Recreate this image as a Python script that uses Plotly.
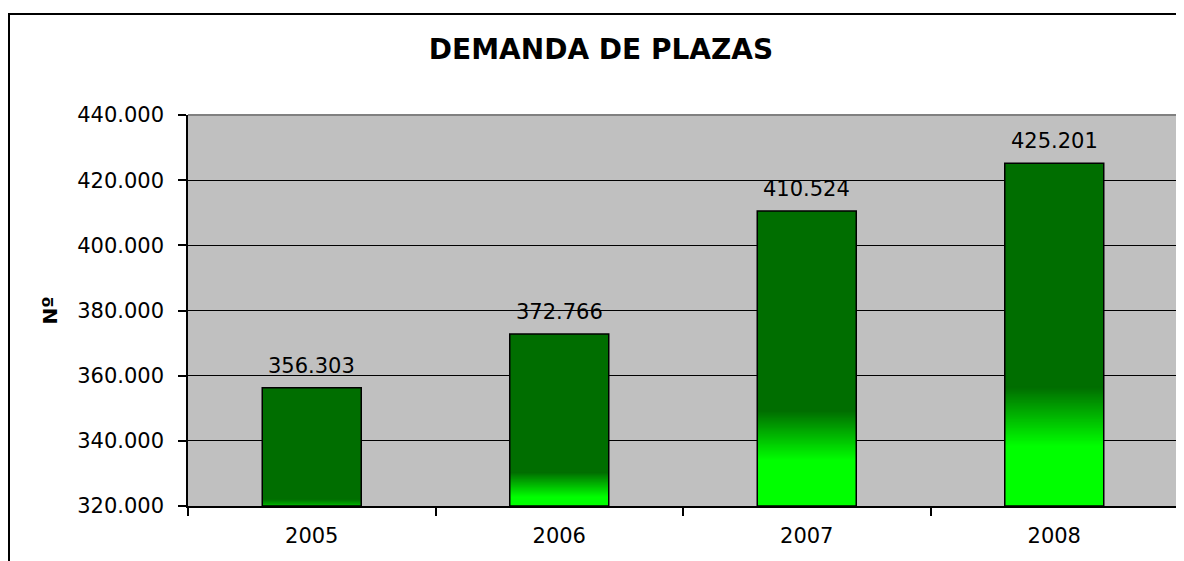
import plotly.graph_objects as go

# ---- data ----
years = ["2005", "2006", "2007", "2008"]
demand = [356303, 372766, 410524, 425201]
y_ticks = [320000, 340000, 360000, 380000, 400000, 420000, 440000]
title_text = "DEMANDA DE PLAZAS"
y_title = "Nº"

AXIS_MIN, AXIS_MAX = 320000, 440000
DARK = (0, 110, 0)
BRIGHT = (0, 255, 0)
N_STEPS = 40
BAR_W = 0.4

# page has an 8px body margin, so the figure is sized/offset accordingly
OFF = 8
W, H = 1184 - OFF, 561 - OFF
ML, MR, MT, MB = 188 - OFF, 6, 115 - OFF, 55
PW, PH = W - ML - MR, H - MT - MB
FONT = "DejaVu Sans"


def mix(t):
    r = [round(DARK[i] + (BRIGHT[i] - DARK[i]) * t) for i in range(3)]
    return f"rgb({r[0]},{r[1]},{r[2]})"


def fmt(v):
    return f"{v:,}".replace(",", ".")


fig = go.Figure()

# full dark bars
fig.add_trace(go.Bar(
    x=years, y=[v - AXIS_MIN for v in demand], base=[AXIS_MIN] * len(demand),
    width=BAR_W, marker=dict(color=mix(0), line=dict(width=0)),
    hoverinfo="skip", showlegend=False))

# gradient region near the bottom of each bar (overlapping shorter bars)
uppers, lowers = [], []
for v in demand:
    h = v - AXIS_MIN
    uppers.append(AXIS_MIN + 0.5 * h - 16000)
    lowers.append(AXIS_MIN + 0.3 * h - 13000)

for k in range(N_STEPS + 1):
    t = k / N_STEPS
    tops, cols = [], []
    for v, up, lo in zip(demand, uppers, lowers):
        top = up - t * (up - lo)
        top = max(AXIS_MIN, min(v, top))
        tops.append(top - AXIS_MIN)
        cols.append(mix(t))
    fig.add_trace(go.Bar(
        x=years, y=tops, base=[AXIS_MIN] * len(demand), width=BAR_W,
        marker=dict(color=cols, line=dict(width=0)),
        hoverinfo="skip", showlegend=False))

# outline bars
fig.add_trace(go.Bar(
    x=years, y=[v - AXIS_MIN for v in demand], base=[AXIS_MIN] * len(demand),
    width=BAR_W, marker=dict(color="rgba(0,0,0,0)", line=dict(color="black", width=1.5)),
    hovertemplate="%{x}: %{customdata}<extra></extra>",
    customdata=[fmt(v) for v in demand], showlegend=False))

for i, v in enumerate(demand):
    fig.add_annotation(x=i, y=v, xref="x", yref="y", text=fmt(v), showarrow=False,
                       yanchor="bottom", yshift=8,
                       font=dict(family=FONT, size=21, color="black"))

fig.update_layout(
    width=W, height=H,
    margin=dict(l=ML, r=MR, t=MT, b=MB),
    paper_bgcolor="white", plot_bgcolor="#C0C0C0",
    barmode="overlay", separators=",.",
    title=dict(text=f"<b>{title_text}</b>", x=(601 - OFF) / W, xref="container", xanchor="center",
               y=1 - (49 - OFF) / H, yref="container", yanchor="middle",
               font=dict(family=FONT, size=28, color="black")),
    xaxis=dict(type="category", categoryorder="array", categoryarray=years,
               range=[-0.5, len(years) - 0.5],
               showline=True, linecolor="black", linewidth=1.5,
               ticks="outside", ticklen=8, tickcolor="black", tickwidth=1.5,
               tickson="boundaries", showgrid=False,
               ticklabelstandoff=10,
               tickfont=dict(family=FONT, size=21, color="black")),
    yaxis=dict(range=[AXIS_MIN, AXIS_MAX], tickvals=y_ticks, tickformat=",.0f",
               showline=True, linecolor="black", linewidth=1.5,
               ticks="outside", ticklen=8, tickcolor="black", tickwidth=1.5,
               showgrid=True, gridcolor="black", gridwidth=1.2, zeroline=False,
               ticklabelstandoff=10,
               tickfont=dict(family=FONT, size=21, color="black"),
               title=dict(text=f"<b>{y_title}</b>", standoff=14,
                          font=dict(family=FONT, size=20, color="black"))),
    shapes=[
        dict(type="path", xref="paper", yref="paper",
             path="M 0,1 L 1,1 L 1,0", line=dict(color="#808080", width=2), layer="above"),
        dict(type="rect", xref="paper", yref="paper",
             x0=(1 - ML) / PW, x1=1.05, y0=-0.5, y1=1 + (MT - (14 - OFF)) / PH,
             line=dict(color="black", width=2), fillcolor="rgba(0,0,0,0)", layer="above"),
    ],
)

fig.write_html("out.html")
